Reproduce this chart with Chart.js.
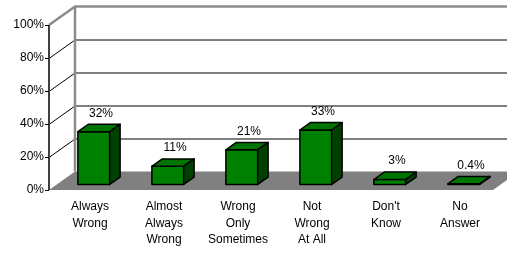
<!DOCTYPE html>
<html>
<head>
<meta charset="utf-8">
<script src="https://cdn.jsdelivr.net/npm/chart.js@4"></script>
<style>
  html, body { margin: 0; padding: 0; background: #fff; }
  #wrap { width: 507px; height: 254px; }
</style>
</head>
<body>
<div id="wrap"><canvas id="myChart"></canvas></div>
<script>
var categories = [
  ['Always', 'Wrong'],
  ['Almost', 'Always', 'Wrong'],
  ['Wrong', 'Only', 'Sometimes'],
  ['Not', 'Wrong', 'At All'],
  ["Don't", 'Know'],
  ['No', 'Answer']
];
var values = [32, 11, 21, 33, 3, 0.4];
var yTicks = [0, 20, 40, 60, 80, 100];

(function () {
  'use strict';

  var DX = 26, DY = -18.5;      // depth of the box
  var BAR_Z1 = 0.3, BAR_Z2 = 0.7; // bar position inside the depth
  var FONT = '12px "Liberation Sans", Arial, sans-serif';

  var box3d = {
    id: 'box3d',
    beforeDatasetsDraw: function (chart) {
      var ctx = chart.ctx;
      var a = chart.chartArea;
      var y = chart.scales.y;
      ctx.save();

      // left wall + back wall gridlines
      ctx.strokeStyle = '#000';
      ctx.lineWidth = 1;
      yTicks.forEach(function (t) {
        if (t === 0 || t === 100) return;
        var py = Math.round(y.getPixelForValue(t)) + 0.5;
        ctx.beginPath();
        ctx.moveTo(a.left, py);
        ctx.lineTo(a.left + DX, py + DY);
        ctx.lineTo(a.right + DX, py + DY);
        ctx.stroke();
      });

      // floor
      ctx.fillStyle = '#808080';
      ctx.beginPath();
      ctx.moveTo(a.left, a.bottom);
      ctx.lineTo(a.right, a.bottom);
      ctx.lineTo(a.right + DX, a.bottom + DY);
      ctx.lineTo(a.left + DX, a.bottom + DY);
      ctx.closePath();
      ctx.fill();

      // wall edges
      ctx.strokeStyle = '#8c8c8c';
      ctx.lineWidth = 2.5;
      ctx.beginPath();
      ctx.moveTo(a.left, a.top);
      ctx.lineTo(a.left + DX, a.top + DY);
      ctx.lineTo(a.right + DX + 5, a.top + DY);
      ctx.moveTo(a.left + DX, a.top + DY);
      ctx.lineTo(a.left + DX, a.bottom + DY);
      ctx.stroke();

      // front axis
      ctx.strokeStyle = '#404040';
      ctx.lineWidth = 2;
      ctx.beginPath();
      ctx.moveTo(a.left, a.top);
      ctx.lineTo(a.left, a.bottom);
      ctx.stroke();
      ctx.lineWidth = 1;
      ctx.strokeStyle = '#000';
      yTicks.forEach(function (t) {
        var py = Math.round(y.getPixelForValue(t)) + 0.5;
        ctx.beginPath();
        ctx.moveTo(a.left - 4, py);
        ctx.lineTo(a.left, py);
        ctx.stroke();
      });
      ctx.restore();
    },
    afterDatasetsDraw: function (chart) {
      var ctx = chart.ctx;
      var a = chart.chartArea;
      var xs = chart.scales.x;
      var ys = chart.scales.y;
      var meta = chart.getDatasetMeta(0);
      ctx.save();
      ctx.lineJoin = 'round';
      ctx.lineWidth = 1.5;
      ctx.strokeStyle = '#000';

      meta.data.forEach(function (bar, i) {
        var p = bar.getProps(['x', 'y', 'base', 'width'], true);
        var ox = DX * BAR_Z1, oy = DY * BAR_Z1;
        var dx = DX * (BAR_Z2 - BAR_Z1), dy = DY * (BAR_Z2 - BAR_Z1);
        var l = p.x - p.width / 2 + ox, r = p.x + p.width / 2 + ox;
        var t = p.y + oy, b = p.base + oy;

        // front
        ctx.fillStyle = '#008000';
        ctx.beginPath();
        ctx.rect(l, t, r - l, b - t);
        ctx.fill();
        ctx.stroke();
        // top
        ctx.fillStyle = '#007400';
        ctx.beginPath();
        ctx.moveTo(l, t);
        ctx.lineTo(l + dx, t + dy);
        ctx.lineTo(r + dx, t + dy);
        ctx.lineTo(r, t);
        ctx.closePath();
        ctx.fill();
        ctx.stroke();
        // side
        ctx.fillStyle = '#004000';
        ctx.beginPath();
        ctx.moveTo(r, t);
        ctx.lineTo(r + dx, t + dy);
        ctx.lineTo(r + dx, b + dy);
        ctx.lineTo(r, b);
        ctx.closePath();
        ctx.fill();
        ctx.stroke();

        // value label
        ctx.fillStyle = '#000';
        ctx.font = FONT;
        ctx.textAlign = 'center';
        ctx.textBaseline = 'middle';
        ctx.fillText(values[i] + '%', (l + r) / 2 + dx / 2 + 2, t + dy - 11);
      });

      // y tick labels
      ctx.fillStyle = '#000';
      ctx.font = FONT;
      ctx.textAlign = 'right';
      ctx.textBaseline = 'middle';
      yTicks.forEach(function (t) {
        ctx.fillText(t + '%', a.left - 5, ys.getPixelForValue(t));
      });

      // category labels
      ctx.textAlign = 'center';
      categories.forEach(function (lines, i) {
        var cx = xs.getPixelForValue(i) + 4;
        lines.forEach(function (s, k) {
          ctx.fillText(s, cx, a.bottom + 17 + k * 16.5);
        });
      });
      ctx.restore();
    }
  };

  var ctx = document.getElementById('myChart').getContext('2d');
  var myChart = new Chart(ctx, {
    type: 'bar',
    data: {
      labels: categories,
      datasets: [{
        data: values,
        backgroundColor: 'rgba(0,0,0,0)',
        borderWidth: 0,
        barPercentage: 0.43,
        categoryPercentage: 1
      }]
    },
    options: {
      responsive: true,
      maintainAspectRatio: false,
      animation: false,
      layout: {
        padding: { left: 49, top: 25, right: 14, bottom: 64 }
      },
      plugins: {
        legend: { display: false },
        tooltip: { enabled: false }
      },
      scales: {
        x: { display: false },
        y: { display: false, min: 0, max: 100 }
      }
    },
    plugins: [box3d]
  });
})();
</script>
</body>
</html>
